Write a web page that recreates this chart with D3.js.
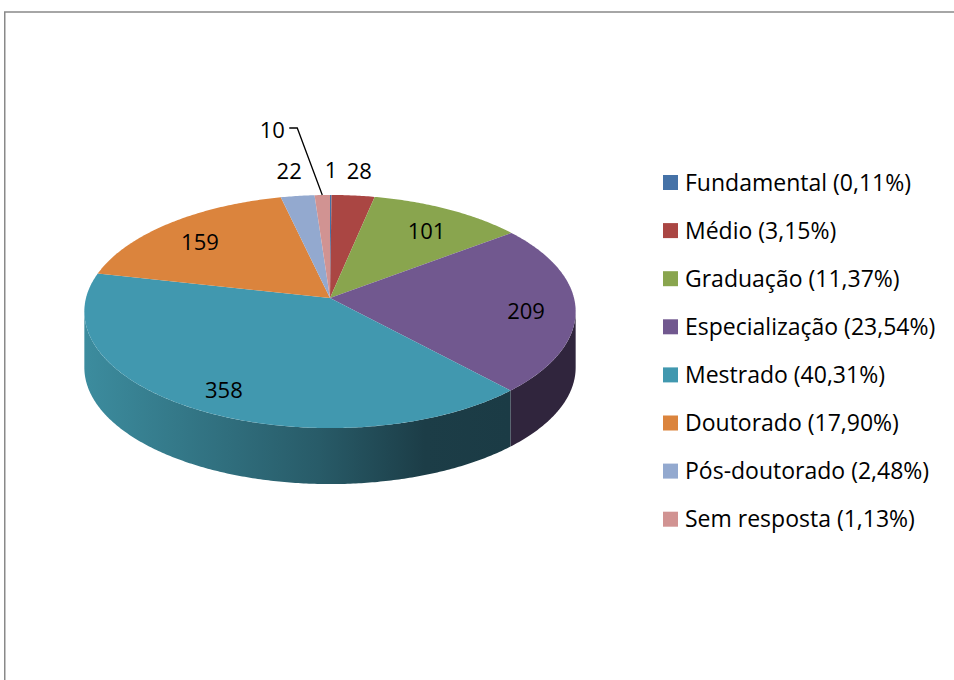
<!DOCTYPE html>
<html>
<head>
<meta charset="utf-8">
<script src="https://cdn.jsdelivr.net/npm/d3@7"></script>
<style>
  body { margin: 0; background: #fff; }
  svg { display: block; }
</style>
</head>
<body>
<svg id="chart" width="954" height="680"></svg>
<script>
// ===============================
// Dades
// ===============================
const categories = ["Fundamental", "Médio", "Graduação", "Especialização", "Mestrado", "Doutorado", "Pós-doutorado", "Sem resposta"];
const values = [1, 28, 101, 209, 358, 159, 22, 10];
const legendLabels = ["Fundamental (0,11%)", "Médio (3,15%)", "Graduação (11,37%)", "Especialização (23,54%)", "Mestrado (40,31%)", "Doutorado (17,90%)", "Pós-doutorado (2,48%)", "Sem resposta (1,13%)"];
const colors = ["#4572A7", "#AA4643", "#89A54E", "#71588F", "#4198AF", "#DB843D", "#93A9CF", "#D19392"];

// ===============================
// Geometria del pastís 3D
// ===============================
const cx = 330, cy = 298;   // vèrtex del pastís
const A = 244, B = 115;     // semieixos
const K = 0.116;            // perspectiva
const DEPTH = 56;
const FONT = "'Open Sans', 'Noto Sans', sans-serif";

function proj(theta, f = 1) {
  const u = f * Math.sin(theta);
  const v = -f * Math.cos(theta);
  const w = 1 - K * v;
  return [cx + A * u / w, cy + B * v / w];
}

function arcPoints(a0, a1, dy = 0) {
  const n = Math.max(2, Math.ceil((a1 - a0) / 0.01));
  return d3.range(n + 1).map(i => {
    const p = proj(a0 + (a1 - a0) * i / n);
    return [p[0], p[1] + dy];
  });
}

const svg = d3.select("#chart");
const line = d3.line();

// vora del gràfic
svg.append("rect")
  .attr("x", 4.75).attr("y", 12)
  .attr("width", 1000).attr("height", 1000)
  .attr("fill", "none")
  .attr("stroke", "#898989")
  .attr("stroke-width", 1.5);

const arcs = d3.pie().sort(null).startAngle(0).endAngle(2 * Math.PI)(values);

// gradient per al costat del Mestrado
const defs = svg.append("defs");
const grad = defs.append("linearGradient")
  .attr("id", "sideGrad")
  .attr("gradientUnits", "userSpaceOnUse")
  .attr("x1", 85).attr("x2", 510).attr("y1", 0).attr("y2", 0);
[[0, "#3c8c9e"], [0.55, "#285b68"], [0.8, "#1c3d47"], [1, "#1b3b45"]].forEach(s => {
  grad.append("stop").attr("offset", s[0]).attr("stop-color", s[1]);
});

const sideColor = i => {
  if (categories[i] === "Mestrado") return "url(#sideGrad)";
  return d3.color(colors[i]).darker(2.4).formatHex();
};

// ===============================
// Costats visibles
// ===============================
const visR = Math.acos(-K);
const visL = 2 * Math.PI - visR;

arcs.forEach((d, i) => {
  const s = Math.max(d.startAngle, visR);
  const e = Math.min(d.endAngle, visL);
  if (e <= s) return;
  const top = arcPoints(s, e);
  const bottom = arcPoints(s, e, DEPTH).reverse();
  svg.append("path")
    .attr("d", line(top.concat(bottom)) + "Z")
    .attr("fill", sideColor(i));
});

// ===============================
// Cara superior
// ===============================
arcs.forEach((d, i) => {
  const pts = [[cx, cy]].concat(arcPoints(d.startAngle, d.endAngle));
  svg.append("path")
    .attr("d", line(pts) + "Z")
    .attr("fill", colors[i]);
});

// ===============================
// Etiquetes de dades
// ===============================
const leaderOffsets = { "Sem resposta": [-50, -65] };

arcs.forEach((d, i) => {
  const mid = (d.startAngle + d.endAngle) / 2;
  const frac = d.value / d3.sum(values);
  let pos;
  if (leaderOffsets[categories[i]]) {
    const rim = proj(mid, 1);
    const off = leaderOffsets[categories[i]];
    const knee = [rim[0] + off[0] + 25, rim[1] + off[1] - 2];
    const end = [knee[0] - 8, knee[1]];
    svg.append("path")
      .attr("d", line([rim, knee, end]))
      .attr("fill", "none")
      .attr("stroke", "#000")
      .attr("stroke-width", 1.3);
    pos = [rim[0] + off[0], rim[1] + off[1]];
  } else if (frac < 0.05) {
    pos = proj(mid, 1.3);
    pos[1] += 2;
  } else {
    pos = proj(mid, 0.8);
    pos[1] += 5;
  }
  svg.append("text")
    .attr("x", pos[0]).attr("y", pos[1])
    .attr("dy", "0.36em")
    .attr("text-anchor", "middle")
    .style("font-family", FONT)
    .style("font-size", "22px")
    .style("fill", "#000")
    .text(d.value);
});

// ===============================
// Llegenda
// ===============================
const legend = svg.append("g").attr("transform", "translate(663, 182.5)");
const rows = legend.selectAll("g")
  .data(legendLabels)
  .enter()
  .append("g")
  .attr("transform", (d, i) => `translate(0, ${i * 48.1})`);

rows.append("rect")
  .attr("x", 0).attr("y", -7.5)
  .attr("width", 15).attr("height", 15)
  .attr("fill", (d, i) => colors[i]);

rows.append("text")
  .attr("x", 22).attr("y", 0)
  .attr("dy", "0.36em")
  .style("font-family", FONT)
  .style("font-size", "23px")
  .style("fill", "#000")
  .text(d => d);
</script>
</body>
</html>
